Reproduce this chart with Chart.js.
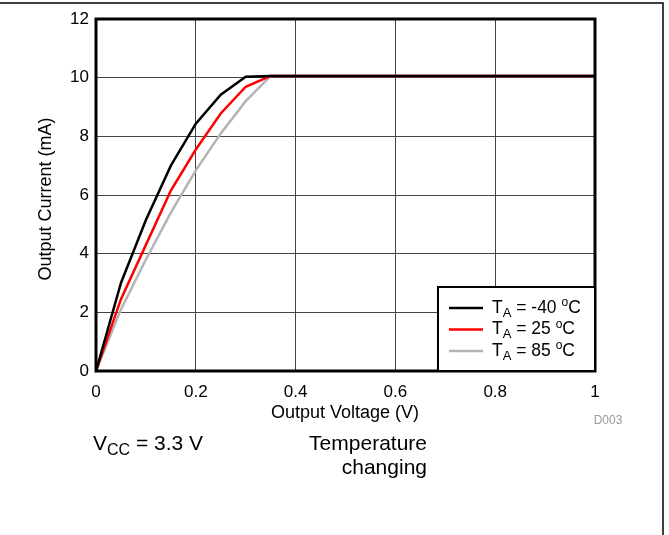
<!DOCTYPE html>
<html>
<head>
<meta charset="utf-8">
<script src="https://cdn.jsdelivr.net/npm/chart.js@4.4.1/dist/chart.umd.min.js"></script>
<style>
  html, body { margin: 0; padding: 0; background: #fff; }
  #wrap { width: 669px; height: 535px; position: relative; }
</style>
</head>
<body>
<div id="wrap"><canvas id="chart-iv" width="669" height="535"></canvas></div>
<script>
// ---- data ----
var voltage      = [0, 0.05, 0.1, 0.15, 0.2, 0.25, 0.3, 0.35, 1];
var currentM40   = [0, 3.0, 5.15, 7.0, 8.43, 9.42, 10.03, 10.06, 10.06];
var current25    = [0, 2.45, 4.3, 6.15, 7.55, 8.78, 9.69, 10.06, 10.06];
var current85    = [0, 2.1, 3.8, 5.4, 6.84, 8.1, 9.2, 10.06, 10.06];
var seriesNames  = ["-40", "25", "85"];
var seriesColors = ["#000000", "#ff0000", "#b4b4b4"];
var xTicks = [0, 0.2, 0.4, 0.6, 0.8, 1];
var yTicks = [0, 2, 4, 6, 8, 10, 12];

var FONT = "'Liberation Sans', Arial, sans-serif";

function toPoints(ys){
  return voltage.map(function(v, i){ return {x: v, y: ys[i]}; });
}

// draw "T_A = xx ^oC" style text
function tempLabel(ctx, x, y, temp){
  ctx.textAlign = "left";
  ctx.textBaseline = "middle";
  ctx.font = "17.5px " + FONT;
  ctx.fillText("T", x, y);
  var w = ctx.measureText("T").width;
  ctx.font = "13px " + FONT;
  ctx.fillText("A", x + w, y + 5);
  w += ctx.measureText("A").width;
  ctx.font = "17.5px " + FONT;
  var s = " = " + temp + " ";
  ctx.fillText(s, x + w, y);
  w += ctx.measureText(s).width;
  ctx.font = "12px " + FONT;
  ctx.fillText("o", x + w, y - 5);
  w += ctx.measureText("o").width;
  ctx.font = "17.5px " + FONT;
  ctx.fillText("C", x + w, y);
}

var decorPlugin = {
  id: "decor",
  afterDraw: function(chart){
    var ctx = chart.ctx;
    var a = chart.chartArea;
    ctx.save();

    // outer frame (top + right only)
    ctx.strokeStyle = "#000";
    ctx.lineWidth = 1.5;
    ctx.beginPath();
    ctx.moveTo(0, 3); ctx.lineTo(663, 3); ctx.lineTo(663, 535);
    ctx.stroke();

    // plot frame
    ctx.lineWidth = 3;
    ctx.strokeRect(a.left, a.top, a.right - a.left, a.bottom - a.top);

    // legend box
    var lx = 438, ly = 287, lw = a.right - 438, lh = a.bottom - 287;
    ctx.fillStyle = "#fff";
    ctx.fillRect(lx, ly, lw, lh);
    ctx.lineWidth = 2;
    ctx.strokeRect(lx, ly, lw, lh);
    for (var i = 0; i < seriesNames.length; i++){
      var ry = 308 + i * 21.5;
      ctx.strokeStyle = seriesColors[i];
      ctx.lineWidth = 2.5;
      ctx.beginPath();
      ctx.moveTo(449, ry); ctx.lineTo(483, ry);
      ctx.stroke();
      ctx.fillStyle = "#000";
      tempLabel(ctx, 492, ry, seriesNames[i]);
    }

    // axis titles
    ctx.fillStyle = "#000";
    ctx.font = "18px " + FONT;
    ctx.textAlign = "center";
    ctx.textBaseline = "middle";
    ctx.fillText("Output Voltage (V)", 345, 413);
    ctx.save();
    ctx.translate(46, 199);
    ctx.rotate(-Math.PI / 2);
    ctx.fillText("Output Current (mA)", 0, 0);
    ctx.restore();

    // D003 tag
    ctx.fillStyle = "#999";
    ctx.font = "12px " + FONT;
    ctx.fillText("D003", 608, 421);

    // notes
    ctx.fillStyle = "#000";
    ctx.textAlign = "left";
    ctx.font = "21px " + FONT;
    ctx.fillText("V", 93, 444);
    var w = ctx.measureText("V").width;
    ctx.font = "16px " + FONT;
    ctx.fillText("CC", 93 + w, 451);
    w += ctx.measureText("CC").width;
    ctx.font = "21px " + FONT;
    ctx.fillText(" = 3.3 V", 93 + w, 444);

    ctx.textAlign = "right";
    ctx.fillText("Temperature", 427, 444);
    ctx.fillText("changing", 427, 468);

    ctx.restore();
  }
};

var configIV = {
  type: "scatter",
  data: {
    datasets: [
      {label: "-40", data: toPoints(currentM40), borderColor: seriesColors[0]},
      {label: "25",  data: toPoints(current25),  borderColor: seriesColors[1]},
      {label: "85",  data: toPoints(current85),  borderColor: seriesColors[2]}
    ].map(function(d){
      d.showLine = true;
      d.pointRadius = 0;
      d.borderWidth = 2.5;
      d.tension = 0;
      return d;
    })
  },
  options: {
    responsive: false,
    animation: false,
    layout: { padding: { left: 0, top: 19, right: 74, bottom: 0 } },
    plugins: { legend: { display: false }, tooltip: { enabled: false } },
    scales: {
      x: {
        type: "linear", min: 0, max: 1,
        afterBuildTicks: function(s){ s.ticks = xTicks.map(function(v){ return {value: v}; }); },
        afterFit: function(s){ s.height = 535 - 371; },
        grid: { color: "#444", lineWidth: 1, drawTicks: false },
        border: { display: false },
        ticks: {
          color: "#000", padding: 11, maxRotation: 0,
          font: { family: FONT, size: 17 },
          callback: function(v){ return String(v); }
        }
      },
      y: {
        type: "linear", min: 0, max: 12,
        afterBuildTicks: function(s){ s.ticks = yTicks.map(function(v){ return {value: v}; }); },
        afterFit: function(s){ s.width = 96; },
        grid: { color: "#444", lineWidth: 1, drawTicks: false },
        border: { display: false },
        ticks: { color: "#000", padding: 7, font: { family: FONT, size: 17 } }
      }
    }
  },
  plugins: [decorPlugin]
};

var chartIV = new Chart(document.getElementById("chart-iv"), configIV);
</script>
</body>
</html>
